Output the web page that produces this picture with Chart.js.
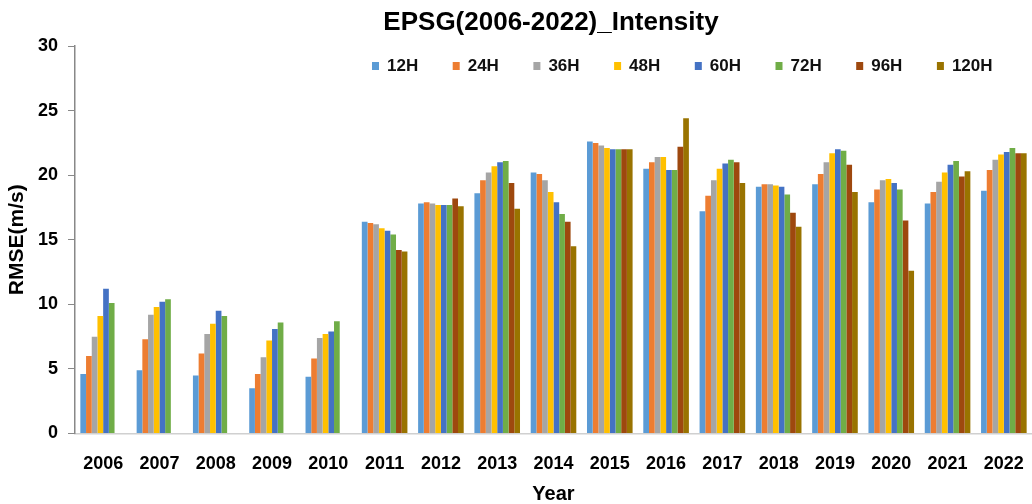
<!DOCTYPE html>
<html>
<head>
<meta charset="utf-8">
<script src="https://cdn.jsdelivr.net/npm/chart.js@4.4.1/dist/chart.umd.min.js"></script>
<style>
  html, body { margin: 0; padding: 0; background: #fff; overflow: hidden; }
  #wrap { width: 1032px; height: 504px; position: relative; }
</style>
</head>
<body>
<div id="wrap"><canvas id="c" width="1032" height="504"></canvas></div>
<script>
const years = ['2006','2007','2008','2009','2010','2011','2012','2013','2014','2015','2016','2017','2018','2019','2020','2021','2022'];
const seriesNames = ['12H','24H','36H','48H','60H','72H','96H','120H'];
const seriesColors = ['#5B9BD5','#ED7D31','#A5A5A5','#FFC000','#4472C4','#70AD47','#9E480E','#997300'];
const h12  = [4.6, 4.9, 4.5, 3.5, 4.4, 16.4, 17.8, 18.6, 20.2, 22.6, 20.5, 17.2, 19.1, 19.3, 17.9, 17.8, 18.8];
const h24  = [6.0, 7.3, 6.2, 4.6, 5.8, 16.3, 17.9, 19.6, 20.1, 22.5, 21.0, 18.4, 19.3, 20.1, 18.9, 18.7, 20.4];
const h36  = [7.5, 9.2, 7.7, 5.9, 7.4, 16.2, 17.8, 20.2, 19.6, 22.3, 21.4, 19.6, 19.3, 21.0, 19.6, 19.5, 21.2];
const h48  = [9.1, 9.8, 8.5, 7.2, 7.7, 15.9, 17.7, 20.7, 18.7, 22.1, 21.4, 20.5, 19.2, 21.7, 19.7, 20.2, 21.6];
const h60  = [11.2, 10.2, 9.5, 8.1, 7.9, 15.7, 17.7, 21.0, 17.9, 22.0, 20.4, 20.9, 19.1, 22.0, 19.4, 20.8, 21.8];
const h72  = [10.1, 10.4, 9.1, 8.6, 8.7, 15.4, 17.7, 21.1, 17.0, 22.0, 20.4, 21.2, 18.5, 21.9, 18.9, 21.1, 22.1];
const h96  = [null, null, null, null, null, 14.2, 18.2, 19.4, 16.4, 22.0, 22.2, 21.0, 17.1, 20.8, 16.5, 19.9, 21.7];
const h120 = [null, null, null, null, null, 14.1, 17.6, 17.4, 14.5, 22.0, 24.4, 19.4, 16.0, 18.7, 12.6, 20.3, 21.7];
const seriesValues = [h12, h24, h36, h48, h60, h72, h96, h120];
const titleText = 'EPSG(2006-2022)_Intensity';
const yTitle = 'RMSE(m/s)';
const xTitle = 'Year';

const FONT = "'Liberation Sans', Arial, sans-serif";

const overlayPlugin = {
  id: 'overlay',
  afterDraw(chart) {
    const ctx = chart.ctx;
    const area = chart.chartArea;
    ctx.save();
    // title
    ctx.fillStyle = '#000';
    ctx.font = 'bold 26px ' + FONT;
    ctx.textAlign = 'center';
    ctx.textBaseline = 'middle';
    ctx.fillText(titleText, 551, 23);
    // legend inside plot
    const startX = 372, itemW = 80.7, boxY = 62;
    ctx.font = 'bold 17px ' + FONT;
    ctx.textAlign = 'left';
    chart.data.datasets.forEach((ds, i) => {
      const x = startX + i * itemW;
      ctx.fillStyle = ds.backgroundColor;
      ctx.fillRect(x, boxY, 7, 8);
      ctx.fillStyle = '#111';
      ctx.fillText(ds.label, x + 15, boxY + 4.5);
    });
    ctx.restore();
  }
};

new Chart(document.getElementById('c'), {
  type: 'bar',
  data: {
    labels: years,
    datasets: seriesNames.map((n, i) => ({
      label: n,
      data: seriesValues[i],
      backgroundColor: seriesColors[i],
      borderWidth: 0,
      barPercentage: 1.0,
      categoryPercentage: 0.81
    }))
  },
  options: {
    responsive: false,
    animation: false,
    layout: { padding: { top: 46, right: 0, bottom: 0, left: 0 } },
    plugins: {
      legend: { display: false },
      title: { display: false },
      tooltip: { enabled: false }
    },
    scales: {
      x: {
        grid: { display: false },
        border: { display: true, color: '#d0d0d0', width: 1.5 },
        ticks: {
          color: '#000',
          font: { family: FONT, size: 18, weight: 'bold' },
          padding: 12,
          maxRotation: 0,
          autoSkip: false
        },
        title: {
          display: true,
          text: xTitle,
          color: '#000',
          font: { family: FONT, size: 20, weight: 'bold' },
          padding: { top: 0, bottom: -2 }
        },
        afterFit(scale) { scale.height = 70.5; scale.paddingLeft = 0; scale.paddingRight = 0; }
      },
      y: {
        min: 0,
        max: 30,
        ticks: {
          stepSize: 5,
          color: '#000',
          font: { family: FONT, size: 18, weight: 'bold' },
          padding: 10
        },
        grid: {
          display: true,
          drawOnChartArea: false,
          drawTicks: true,
          tickLength: 7,
          color: '#888'
        },
        border: { display: true, color: '#888', width: 1.5 },
        title: {
          display: true,
          text: yTitle,
          color: '#000',
          font: { family: FONT, size: 21, weight: 'bold' },
          padding: { top: 5, bottom: 0 }
        },
        afterFit(scale) { scale.width = 75; }
      }
    }
  },
  plugins: [overlayPlugin]
});
</script>
</body>
</html>
